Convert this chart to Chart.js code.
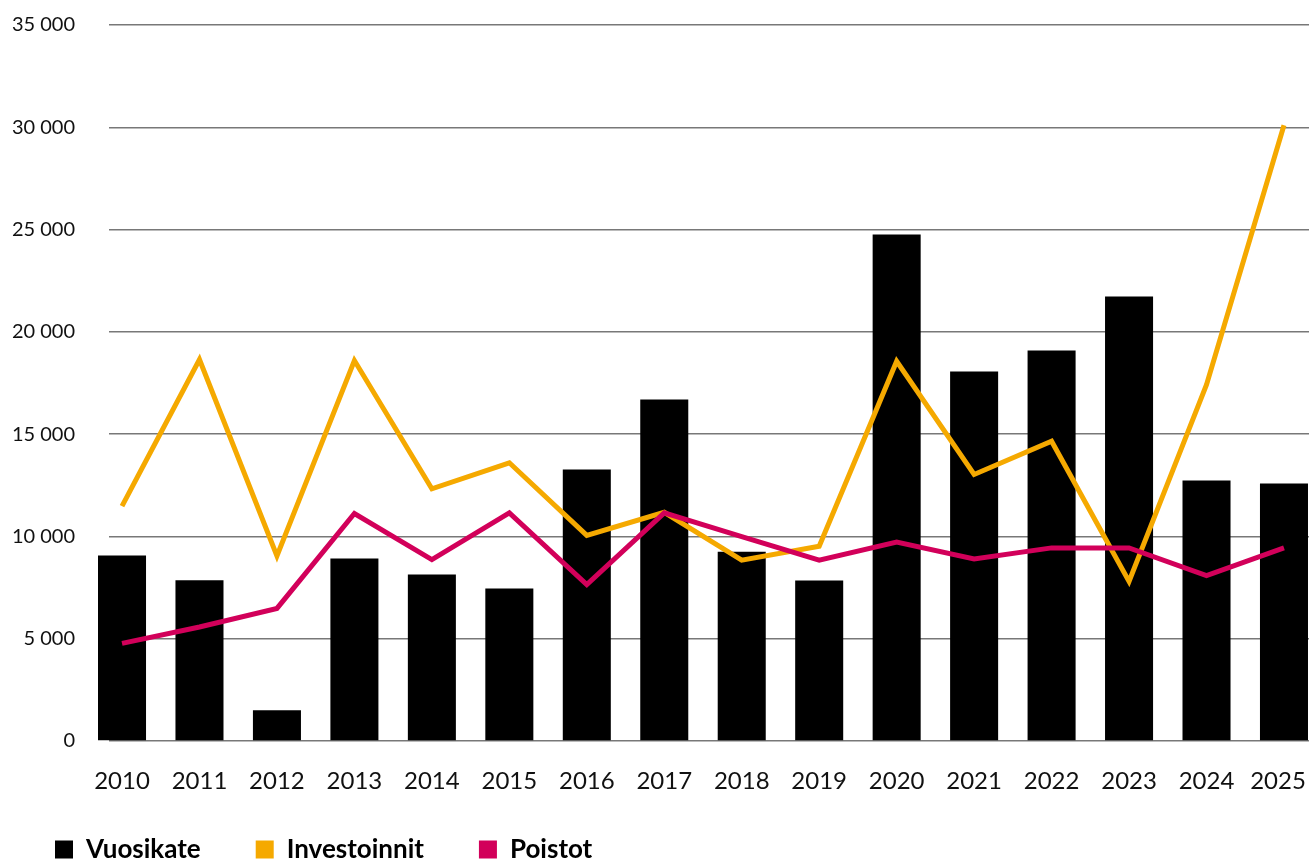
<!DOCTYPE html>
<html>
<head>
<meta charset="utf-8">
<script src="https://cdn.jsdelivr.net/npm/chart.js@4/dist/chart.umd.min.js"></script>
<style>
  html, body { margin: 0; padding: 0; background: #fff; overflow: hidden; }
  #wrap { position: relative; width: 1309px; height: 890px; }
</style>
</head>
<body>
<div id="wrap"><canvas id="chart"></canvas></div>
<script>
const years = [2010, 2011, 2012, 2013, 2014, 2015, 2016, 2017, 2018, 2019, 2020, 2021, 2022, 2023, 2024, 2025];
const vuosikate = [9070, 7860, 1500, 8920, 8140, 7450, 13270, 16690, 9250, 7850, 24760, 18060, 19090, 21730, 12730, 12590];
const investoinnit = [11480, 18650, 9050, 18600, 12330, 13600, 10050, 11180, 8840, 9520, 18560, 13030, 14650, 7800, 17420, 30100];
const poistot = [4770, 5570, 6480, 11120, 8870, 11150, 7650, 11150, 9990, 8840, 9720, 8900, 9440, 9440, 8090, 9440];
const yTicks = [0, 5000, 10000, 15000, 20000, 25000, 30000, 35000];

const colors = { vuosikate: '#000000', investoinnit: '#F5A900', poistot: '#D2005A' };

Chart.defaults.font.family = 'Lato, "Open Sans", sans-serif';
Chart.defaults.color = '#111';

const toPoints = arr => years.map((y, i) => ({ x: y, y: arr[i] }));

// legend sits closer to the axis labels than the layout allows
const legendNudge = {
    id: 'legendNudge',
    afterLayout(chart) {
        chart.legend.top -= 17.5;
        chart.legend.bottom -= 17.5;
    }
};

const ctx = document.getElementById('chart');
new Chart(ctx, {
    type: 'bar',
    data: {
        datasets: [
            {
                type: 'bar',
                label: 'Vuosikate',
                data: toPoints(vuosikate),
                backgroundColor: colors.vuosikate,
                categoryPercentage: 1,
                barPercentage: 0.62,
                clip: false,
                order: 2
            },
            {
                type: 'line',
                label: 'Investoinnit',
                data: toPoints(investoinnit),
                borderColor: colors.investoinnit,
                backgroundColor: colors.investoinnit,
                borderWidth: 5,
                pointRadius: 0,
                tension: 0,
                clip: false,
                order: 1
            },
            {
                type: 'line',
                label: 'Poistot',
                data: toPoints(poistot),
                borderColor: colors.poistot,
                backgroundColor: colors.poistot,
                borderWidth: 5,
                pointRadius: 0,
                tension: 0,
                clip: false,
                order: 0
            }
        ]
    },
    options: {
        responsive: true,
        maintainAspectRatio: false,
        animation: false,
        layout: {
            autoPadding: false,
            padding: { top: 25, left: 0, right: 0, bottom: 0 }
        },
        scales: {
            x: {
                type: 'linear',
                offset: false,
                min: 2009.832,
                max: 2025.323,
                grid: { display: false, drawTicks: false },
                border: { display: false },
                afterBuildTicks: s => { s.ticks = years.map(v => ({ value: v })); },
                afterFit: s => { s.height = 58; s.paddingLeft = 0; s.paddingRight = 0; },
                ticks: {
                    padding: 26,
                    maxRotation: 0,
                    autoSkip: false,
                    font: { size: 24 },
                    color: '#111',
                    // last label pulled in a little so it is not cut at the edge
                    callback: (v, i, t) => i === t.length - 1 ? String(v) + '\u2002' : String(v)
                }
            },
            y: {
                min: 0,
                max: 35000,
                grid: { color: '#787878', lineWidth: 1.4, drawTicks: false },
                border: { display: false },
                afterBuildTicks: s => { s.ticks = yTicks.map(v => ({ value: v })); },
                afterFit: s => { s.width = 109; s.paddingTop = 0; s.paddingBottom = 0; },
                ticks: {
                    padding: 34,
                    font: { size: 20 },
                    color: '#111',
                    callback: v => v === 0 ? '0' : (v / 1000) + ' 000'
                }
            }
        },
        plugins: {
            tooltip: { enabled: false },
            legend: {
                position: 'bottom',
                align: 'start',
                labels: {
                    boxWidth: 18,
                    boxHeight: 18,
                    padding: 55,
                    color: '#111',
                    font: { size: 26, weight: 'bold' },
                    generateLabels: chart => chart.data.datasets.map((ds, i) => ({
                        text: ds.label,
                        fillStyle: ds.backgroundColor,
                        strokeStyle: ds.backgroundColor,
                        lineWidth: 0,
                        hidden: false,
                        datasetIndex: i
                    }))
                }
            }
        }
    },
    plugins: [legendNudge]
});
</script>
</body>
</html>
